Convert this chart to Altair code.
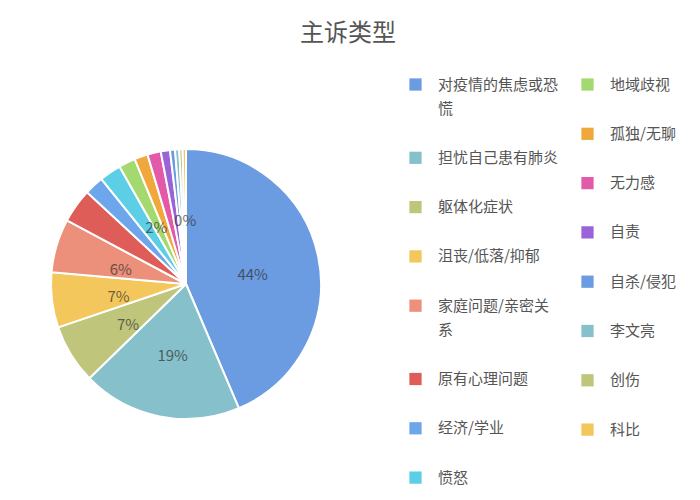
import altair as alt
import pandas as pd

categories = ["对疫情的焦虑或恐慌", "担忧自己患有肺炎", "躯体化症状", "沮丧/低落/抑郁",
              "家庭问题/亲密关系", "原有心理问题", "经济/学业", "愤怒",
              "地域歧视", "孤独/无聊", "无力感", "自责",
              "自杀/侵犯", "李文亮", "创伤", "科比"]
shares = [43.6, 19.1, 7.1, 6.6, 6.4, 4.1, 2.3, 2.6, 2.0, 1.6, 1.6, 1.1, 0.6, 0.5, 0.4, 0.4]
colors = ["#6b9be0", "#86c0cb", "#bfc67c", "#f3c75b", "#ec8f7b", "#de5d58", "#6ea6ec", "#5ccfe6",
          "#a4d96f", "#f0a73b", "#e35ba8", "#9b63d8", "#6b9be0", "#86c0cb", "#bfc67c", "#f3c75b"]
labelled = ["对疫情的焦虑或恐慌", "担忧自己患有肺炎", "躯体化症状", "沮丧/低落/抑郁",
            "家庭问题/亲密关系", "地域歧视", "科比"]

total = sum(shares)
df = pd.DataFrame({"category": categories, "share": shares, "idx": list(range(len(categories)))})

FONT = "Noto Sans CJK SC"
wrap = "length(datum.label) > 8 ? [substring(datum.label, 0, 8), substring(datum.label, 8)] : datum.label"

base = alt.Chart(df).transform_window(
    cum="sum(share)", sort=[alt.SortField("idx")], frame=[None, 0]
).transform_calculate(
    start="datum.cum - datum.share",
    mid="datum.cum - datum.share / 2",
    pct=f"format(datum.share / {total}, '.0%')",
)

theta_scale = alt.Scale(domain=[0, total])


def legend(x, y):
    return alt.Legend(
        title=None, orient="none", legendX=x, legendY=y, symbolType="square",
        symbolSize=150, symbolStrokeWidth=0, labelFontSize=15, labelFont=FONT,
        labelColor="#555555", labelOffset=15, rowPadding=33.3, padding=0,
        labelExpr=wrap, labelLimit=200,
    )


arc1 = base.transform_filter("datum.idx < 8").mark_arc(outerRadius=135, stroke="white", strokeWidth=2).encode(
    theta=alt.Theta("start:Q", scale=theta_scale),
    theta2="cum:Q",
    color=alt.Color("category:N", scale=alt.Scale(domain=categories[:8], range=colors[:8]),
                    legend=legend(400, -7)),
)
arc2 = base.transform_filter("datum.idx >= 8").mark_arc(outerRadius=135, stroke="white", strokeWidth=2).encode(
    theta=alt.Theta("start:Q", scale=theta_scale),
    theta2="cum:Q",
    color=alt.Color("category:N", scale=alt.Scale(domain=categories[8:], range=colors[8:]),
                    legend=legend(572, -7)),
)
text = base.transform_filter(alt.FieldOneOfPredicate(field="category", oneOf=labelled)).mark_text(
    radius=68, fontSize=15, font=FONT, color="#333333", opacity=0.7, dy=5
).encode(
    theta=alt.Theta("mid:Q", scale=theta_scale),
    text="pct:N",
)

chart = alt.layer(arc1, arc2, text).resolve_scale(color="independent").properties(
    width=356, height=400, padding={"top": 14, "left": 0, "right": 0, "bottom": 0},
    title=alt.TitleParams("主诉类型", fontSize=24, font=FONT, color="#555555", fontWeight="normal",
                          anchor="middle", dx=162, offset=31),
).configure_view(stroke=None)
chart.config.style = {"guide-label": {"lineHeight": 24}}

chart.save("out.html", embed_options={"renderer": "svg", "actions": False})
